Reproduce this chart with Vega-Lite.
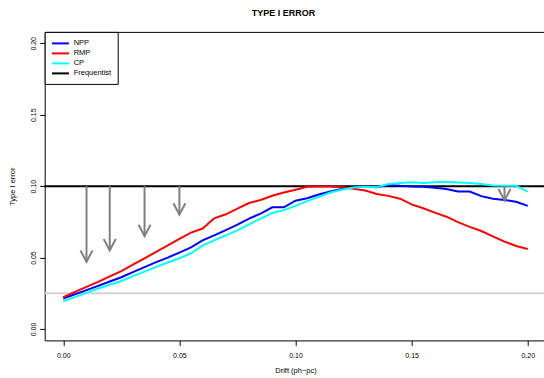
{
  "$schema": "https://vega.github.io/schema/vega-lite/v6.json",
  "width": 501.6,
  "height": 308.5,
  "autosize": {"type": "none"},
  "padding": {"left": 44.7, "top": 31.9, "right": 0, "bottom": 37.6},
  "background": "white",
  "config": {
    "font": "Liberation Sans",
    "view": {"stroke": "black", "strokeWidth": 1},
    "axis": {"grid": false, "domain": false, "tickColor": "black", "tickSize": 5, "tickWidth": 1, "labelColor": "black", "labelFontSize": 7, "titleColor": "black", "titleFontSize": 7.5, "titleFontWeight": "normal"}
  },
  "title": {"text": "TYPE I ERROR", "fontSize": 9, "fontWeight": "bold", "anchor": "middle", "offset": 13, "dx": -12, "color": "black"},
  "datasets": {
    "one": [{"k": 1}],
    "curves": [
      {"x": 0.000, "y": 0.0213, "series": "NPP"},
      {"x": 0.005, "y": 0.0243, "series": "NPP"},
      {"x": 0.010, "y": 0.0272, "series": "NPP"},
      {"x": 0.015, "y": 0.0302, "series": "NPP"},
      {"x": 0.020, "y": 0.0332, "series": "NPP"},
      {"x": 0.025, "y": 0.0362, "series": "NPP"},
      {"x": 0.030, "y": 0.0398, "series": "NPP"},
      {"x": 0.035, "y": 0.0433, "series": "NPP"},
      {"x": 0.040, "y": 0.0468, "series": "NPP"},
      {"x": 0.045, "y": 0.0500, "series": "NPP"},
      {"x": 0.050, "y": 0.0535, "series": "NPP"},
      {"x": 0.055, "y": 0.0571, "series": "NPP"},
      {"x": 0.060, "y": 0.0620, "series": "NPP"},
      {"x": 0.065, "y": 0.0655, "series": "NPP"},
      {"x": 0.070, "y": 0.0692, "series": "NPP"},
      {"x": 0.075, "y": 0.0730, "series": "NPP"},
      {"x": 0.080, "y": 0.0773, "series": "NPP"},
      {"x": 0.085, "y": 0.0808, "series": "NPP"},
      {"x": 0.090, "y": 0.0852, "series": "NPP"},
      {"x": 0.095, "y": 0.0852, "series": "NPP"},
      {"x": 0.100, "y": 0.0898, "series": "NPP"},
      {"x": 0.105, "y": 0.0915, "series": "NPP"},
      {"x": 0.110, "y": 0.0942, "series": "NPP"},
      {"x": 0.115, "y": 0.0962, "series": "NPP"},
      {"x": 0.120, "y": 0.0980, "series": "NPP"},
      {"x": 0.125, "y": 0.0992, "series": "NPP"},
      {"x": 0.130, "y": 0.0998, "series": "NPP"},
      {"x": 0.135, "y": 0.0992, "series": "NPP"},
      {"x": 0.140, "y": 0.1008, "series": "NPP"},
      {"x": 0.145, "y": 0.1002, "series": "NPP"},
      {"x": 0.150, "y": 0.0998, "series": "NPP"},
      {"x": 0.155, "y": 0.0996, "series": "NPP"},
      {"x": 0.160, "y": 0.0988, "series": "NPP"},
      {"x": 0.165, "y": 0.0980, "series": "NPP"},
      {"x": 0.170, "y": 0.0962, "series": "NPP"},
      {"x": 0.175, "y": 0.0962, "series": "NPP"},
      {"x": 0.180, "y": 0.0930, "series": "NPP"},
      {"x": 0.185, "y": 0.0912, "series": "NPP"},
      {"x": 0.190, "y": 0.0903, "series": "NPP"},
      {"x": 0.195, "y": 0.0891, "series": "NPP"},
      {"x": 0.200, "y": 0.0862, "series": "NPP"},
      {"x": 0.000, "y": 0.0222, "series": "RMP"},
      {"x": 0.005, "y": 0.0260, "series": "RMP"},
      {"x": 0.010, "y": 0.0295, "series": "RMP"},
      {"x": 0.015, "y": 0.0330, "series": "RMP"},
      {"x": 0.020, "y": 0.0368, "series": "RMP"},
      {"x": 0.025, "y": 0.0405, "series": "RMP"},
      {"x": 0.030, "y": 0.0450, "series": "RMP"},
      {"x": 0.035, "y": 0.0495, "series": "RMP"},
      {"x": 0.040, "y": 0.0540, "series": "RMP"},
      {"x": 0.045, "y": 0.0585, "series": "RMP"},
      {"x": 0.050, "y": 0.0630, "series": "RMP"},
      {"x": 0.055, "y": 0.0675, "series": "RMP"},
      {"x": 0.060, "y": 0.0703, "series": "RMP"},
      {"x": 0.065, "y": 0.0775, "series": "RMP"},
      {"x": 0.070, "y": 0.0803, "series": "RMP"},
      {"x": 0.075, "y": 0.0843, "series": "RMP"},
      {"x": 0.080, "y": 0.0882, "series": "RMP"},
      {"x": 0.085, "y": 0.0903, "series": "RMP"},
      {"x": 0.090, "y": 0.0933, "series": "RMP"},
      {"x": 0.095, "y": 0.0955, "series": "RMP"},
      {"x": 0.100, "y": 0.0975, "series": "RMP"},
      {"x": 0.105, "y": 0.0996, "series": "RMP"},
      {"x": 0.110, "y": 0.0998, "series": "RMP"},
      {"x": 0.115, "y": 0.0998, "series": "RMP"},
      {"x": 0.120, "y": 0.0992, "series": "RMP"},
      {"x": 0.125, "y": 0.0982, "series": "RMP"},
      {"x": 0.130, "y": 0.0970, "series": "RMP"},
      {"x": 0.135, "y": 0.0945, "series": "RMP"},
      {"x": 0.140, "y": 0.0932, "series": "RMP"},
      {"x": 0.145, "y": 0.0912, "series": "RMP"},
      {"x": 0.150, "y": 0.0872, "series": "RMP"},
      {"x": 0.155, "y": 0.0845, "series": "RMP"},
      {"x": 0.160, "y": 0.0815, "series": "RMP"},
      {"x": 0.165, "y": 0.0786, "series": "RMP"},
      {"x": 0.170, "y": 0.0748, "series": "RMP"},
      {"x": 0.175, "y": 0.0715, "series": "RMP"},
      {"x": 0.180, "y": 0.0686, "series": "RMP"},
      {"x": 0.185, "y": 0.0648, "series": "RMP"},
      {"x": 0.190, "y": 0.0612, "series": "RMP"},
      {"x": 0.195, "y": 0.0581, "series": "RMP"},
      {"x": 0.200, "y": 0.0560, "series": "RMP"},
      {"x": 0.000, "y": 0.0193, "series": "CP"},
      {"x": 0.005, "y": 0.0223, "series": "CP"},
      {"x": 0.010, "y": 0.0253, "series": "CP"},
      {"x": 0.015, "y": 0.0283, "series": "CP"},
      {"x": 0.020, "y": 0.0310, "series": "CP"},
      {"x": 0.025, "y": 0.0336, "series": "CP"},
      {"x": 0.030, "y": 0.0370, "series": "CP"},
      {"x": 0.035, "y": 0.0402, "series": "CP"},
      {"x": 0.040, "y": 0.0435, "series": "CP"},
      {"x": 0.045, "y": 0.0465, "series": "CP"},
      {"x": 0.050, "y": 0.0495, "series": "CP"},
      {"x": 0.055, "y": 0.0530, "series": "CP"},
      {"x": 0.060, "y": 0.0585, "series": "CP"},
      {"x": 0.065, "y": 0.0620, "series": "CP"},
      {"x": 0.070, "y": 0.0655, "series": "CP"},
      {"x": 0.075, "y": 0.0690, "series": "CP"},
      {"x": 0.080, "y": 0.0732, "series": "CP"},
      {"x": 0.085, "y": 0.0772, "series": "CP"},
      {"x": 0.090, "y": 0.0812, "series": "CP"},
      {"x": 0.095, "y": 0.0832, "series": "CP"},
      {"x": 0.100, "y": 0.0862, "series": "CP"},
      {"x": 0.105, "y": 0.0895, "series": "CP"},
      {"x": 0.110, "y": 0.0925, "series": "CP"},
      {"x": 0.115, "y": 0.0955, "series": "CP"},
      {"x": 0.120, "y": 0.0975, "series": "CP"},
      {"x": 0.125, "y": 0.0990, "series": "CP"},
      {"x": 0.130, "y": 0.0996, "series": "CP"},
      {"x": 0.135, "y": 0.0992, "series": "CP"},
      {"x": 0.140, "y": 0.1015, "series": "CP"},
      {"x": 0.145, "y": 0.1022, "series": "CP"},
      {"x": 0.150, "y": 0.1027, "series": "CP"},
      {"x": 0.155, "y": 0.1022, "series": "CP"},
      {"x": 0.160, "y": 0.1028, "series": "CP"},
      {"x": 0.165, "y": 0.1031, "series": "CP"},
      {"x": 0.170, "y": 0.1025, "series": "CP"},
      {"x": 0.175, "y": 0.1022, "series": "CP"},
      {"x": 0.180, "y": 0.1015, "series": "CP"},
      {"x": 0.185, "y": 0.1005, "series": "CP"},
      {"x": 0.190, "y": 0.1003, "series": "CP"},
      {"x": 0.195, "y": 0.1002, "series": "CP"},
      {"x": 0.200, "y": 0.0962, "series": "CP"}
    ],
    "arrows": [
      {"x": 0.010, "y0": 0.1, "y1": 0.047},
      {"x": 0.020, "y0": 0.1, "y1": 0.055},
      {"x": 0.035, "y0": 0.1, "y1": 0.065},
      {"x": 0.050, "y0": 0.1, "y1": 0.080},
      {"x": 0.190, "y0": 0.1, "y1": 0.090}
    ]
  },
  "layer": [
    {
      "data": {"name": "one"},
      "mark": {"type": "rule", "stroke": "#D3D3D3", "strokeWidth": 2},
      "encoding": {"y": {"datum": 0.025, "type": "quantitative"}}
    },
    {
      "data": {"name": "one"},
      "mark": {"type": "rule", "strokeWidth": 2},
      "encoding": {
        "y": {"datum": 0.1, "type": "quantitative"},
        "color": {"datum": "Frequentist", "type": "nominal"}
      }
    },
    {
      "data": {"name": "curves"},
      "mark": {"type": "line", "strokeWidth": 2},
      "encoding": {
        "x": {"field": "x", "type": "quantitative", "scale": {"domain": [-0.008, 0.208], "nice": false, "zero": false},
          "axis": {"values": [0, 0.05, 0.1, 0.15, 0.2], "format": ".2f", "labelPadding": 6, "title": "Drift (ph−pc)", "titlePadding": 8}},
        "y": {"field": "y", "type": "quantitative", "scale": {"domain": [-0.008, 0.208], "nice": false, "zero": false},
          "axis": {"values": [0, 0.05, 0.1, 0.15, 0.2], "format": ".2f", "labelAngle": 270, "labelAlign": "center", "labelBaseline": "bottom", "labelPadding": 3, "title": "Type I error", "titlePadding": 13}},
        "color": {"field": "series", "type": "nominal",
          "scale": {"domain": ["NPP", "RMP", "CP", "Frequentist"], "range": ["#0000FF", "#FF0000", "#00FFFF", "#000000"]},
          "legend": {"orient": "none", "legendX": 0, "legendY": 0, "title": null, "symbolType": "M-1,0L3,0", "symbolSize": 72, "symbolStrokeWidth": 2, "labelFontSize": 7.5, "labelOffset": 12, "padding": 6, "rowPadding": -2, "strokeColor": "black", "fillColor": "white", "labelColor": "black"}},
        "detail": {"field": "series"}
      }
    },
    {
      "data": {"name": "arrows"},
      "mark": {"type": "rule", "stroke": "#808080", "strokeWidth": 2},
      "encoding": {
        "x": {"field": "x", "type": "quantitative"},
        "y": {"field": "y0", "type": "quantitative"},
        "y2": {"field": "y1"}
      }
    },
    {
      "data": {"name": "arrows"},
      "mark": {"type": "point", "shape": "M-1,-1.9L0,0L1,-1.9", "filled": false, "stroke": "#808080", "strokeWidth": 2, "size": 144, "opacity": 1},
      "encoding": {
        "x": {"field": "x", "type": "quantitative"},
        "y": {"field": "y1", "type": "quantitative"}
      }
    }
  ]
}
